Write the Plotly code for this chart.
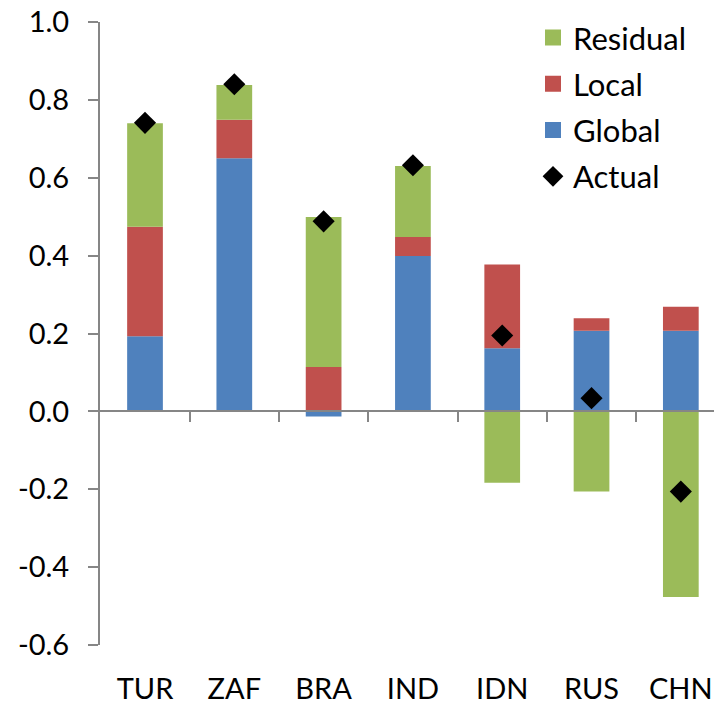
import plotly.graph_objects as go

categories = ["TUR", "ZAF", "BRA", "IND", "IDN", "RUS", "CHN"]
global_vals = [0.193, 0.650, -0.013, 0.399, 0.162, 0.207, 0.207]
local_vals = [0.281, 0.099, 0.114, 0.049, 0.215, 0.032, 0.062]
residual_vals = [0.266, 0.089, 0.385, 0.182, -0.183, -0.206, -0.477]
actual_vals = [0.741, 0.840, 0.488, 0.632, 0.195, 0.034, -0.206]

y_tickvals = [-0.6, -0.4, -0.2, 0.0, 0.2, 0.4, 0.6, 0.8, 1.0]
y_ticktext = ["-0.6", "-0.4", "-0.2", "0.0", "0.2", "0.4", "0.6", "0.8", "1.0"]

BLUE = "#4F81BD"
RED = "#C0504D"
GREEN = "#9BBB59"
GRAY = "#868686"
FONT = "Lato"

fig = go.Figure()
for name, vals, col in [("Global", global_vals, BLUE), ("Local", local_vals, RED), ("Residual", residual_vals, GREEN)]:
    fig.add_trace(go.Bar(x=categories, y=vals, name=name, marker=dict(color=col, line=dict(width=0)),
                         width=0.4, showlegend=False))

fig.add_trace(go.Scatter(x=categories, y=actual_vals, mode="markers", name="Actual",
                         marker=dict(symbol="diamond", size=17, color="black"),
                         legendrank=4, legendgroup="d"))

# legend entries
for name, col, rank in [("Residual", GREEN, 1), ("Local", RED, 2), ("Global", BLUE, 3)]:
    fig.add_trace(go.Scatter(x=[None], y=[None], mode="markers", name=name,
                             marker=dict(symbol="square", size=16, color=col),
                             legendrank=rank, legendgroup=name))

# helper trace for the zero axis
fig.add_trace(go.Scatter(x=[None], y=[None], xaxis="x2", showlegend=False, hoverinfo="skip"))

xr = [-0.504, 6.461]
fig.update_layout(
    width=722, height=703,
    margin=dict(l=92, r=8, t=14, b=66, autoexpand=False),
    paper_bgcolor="white", plot_bgcolor="white",
    barmode="relative",
    font=dict(family=FONT, size=29, color="black"),
    showlegend=True,
    legend=dict(x=(533 - 100) / 622, xanchor="left", y=1.018, yanchor="top",
                traceorder="grouped", tracegroupgap=3,
                font=dict(family=FONT, size=31, color="black"),
                bgcolor="rgba(0,0,0,0)", itemwidth=30),
    xaxis=dict(type="category", range=xr, showline=False, showgrid=False, zeroline=False,
               automargin=False, ticklabeloverflow="allow",
               ticks="outside", ticklen=18, tickcolor="rgba(0,0,0,0)",
               tickfont=dict(family=FONT, size=29, color="black")),
    xaxis2=dict(overlaying="x", anchor="free", position=0.6 / 1.6, range=xr,
                showline=True, linecolor=GRAY, linewidth=2, showgrid=False, zeroline=False,
                automargin=False,
                tickmode="array", tickvals=[0.5, 1.5, 2.5, 3.5, 4.5, 5.5],
                ticks="outside", ticklen=10, tickwidth=2, tickcolor=GRAY,
                showticklabels=False),
    yaxis=dict(range=[-0.6, 1.0], tickmode="array", tickvals=y_tickvals, ticktext=y_ticktext,
               showline=True, linecolor=GRAY, linewidth=2, showgrid=False, zeroline=False,
               automargin=False, ticklabeloverflow="allow",
               ticks="outside", ticklen=10, tickwidth=2, tickcolor=GRAY,
               ticklabelstandoff=13,
               tickfont=dict(family=FONT, size=29, color="black")),
)

fig.write_html("out.html")
